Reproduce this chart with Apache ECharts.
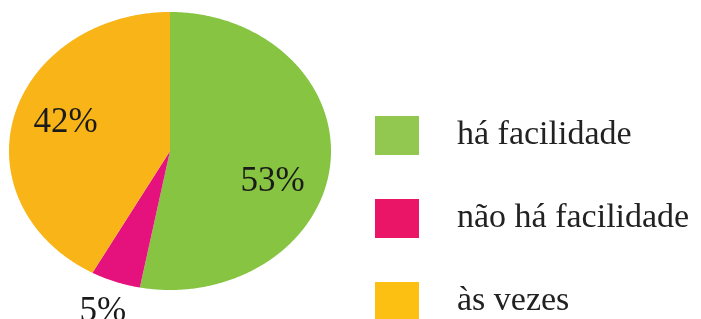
<!DOCTYPE html>
<html>
<head>
<meta charset="utf-8">
<script src="https://cdn.jsdelivr.net/npm/echarts@6/dist/echarts.min.js"></script>
<style>
  html, body { margin: 0; padding: 0; background: #fff; }
  #chart { width: 701px; height: 319px; }
</style>
</head>
<body>
<div id="chart"></div>
<script>
var categories = ["há facilidade", "não há facilidade", "às vezes"];
var values = [53, 5, 42];
var labels = ["53%", "5%", "42%"];

var sliceColors = ["#86c441", "#e5127d", "#f9b518"];
var legendColors = ["#93c850", "#ea1566", "#fcc012"];
// label placement (fraction of radius, pixel nudge)
var labelRadius = [0.64, 1.23, 0.67];
var labelNudge = [[0, 22], [0, 0], [0, -5]];

var cx = 170, cy = 151, rx = 161, ry = 139;
var total = values.reduce(function (a, b) { return a + b; }, 0);

function ellipsePoint(t, f) {
  return [cx + rx * f * Math.sin(t), cy - ry * f * Math.cos(t)];
}

function sliceRenderer(i) {
  return function (params, api) {
    var before = 0;
    for (var k = 0; k < i; k++) before += values[k];
    var a0 = before / total * Math.PI * 2;
    var a1 = (before + api.value(0)) / total * Math.PI * 2;
    var pts = [[cx, cy]];
    var steps = Math.max(4, Math.ceil((a1 - a0) / 0.01));
    for (var s = 0; s <= steps; s++) {
      pts.push(ellipsePoint(a0 + (a1 - a0) * s / steps, 1));
    }
    var mid = (a0 + a1) / 2;
    var lp = ellipsePoint(mid, labelRadius[i]);
    return {
      type: "group",
      children: [
        {
          type: "polygon",
          shape: { points: pts },
          style: { fill: sliceColors[i] }
        },
        {
          type: "text",
          z2: 10,
          style: {
            text: labels[i],
            x: lp[0] + labelNudge[i][0],
            y: lp[1] + labelNudge[i][1],
            align: "center",
            verticalAlign: "middle",
            fill: "#1a1a1a",
            font: "35px 'Liberation Serif', serif"
          }
        }
      ]
    };
  };
}

var series = categories.map(function (name, i) {
  return {
    name: name,
    type: "custom",
    coordinateSystem: "none",
    itemStyle: { color: legendColors[i] },
    renderItem: sliceRenderer(i),
    data: [[values[i]]],
    silent: true
  };
});

var chart = echarts.init(document.getElementById("chart"), null, { renderer: "canvas" });
chart.setOption({
  animation: false,
  legend: {
    orient: "vertical",
    left: 375,
    top: 116,
    height: 400,
    padding: 0,
    itemWidth: 44,
    itemHeight: 39,
    itemGap: 44,
    icon: "rect",
    selectedMode: false,
    data: categories.map(function (name, i) {
      return { name: name, itemStyle: { color: legendColors[i] } };
    }),
    textStyle: {
      fontFamily: "'Liberation Serif', serif",
      fontSize: 34,
      color: "#222",
      padding: [0, 0, 13, 33]
    }
  },
  series: series
});
</script>
</body>
</html>
